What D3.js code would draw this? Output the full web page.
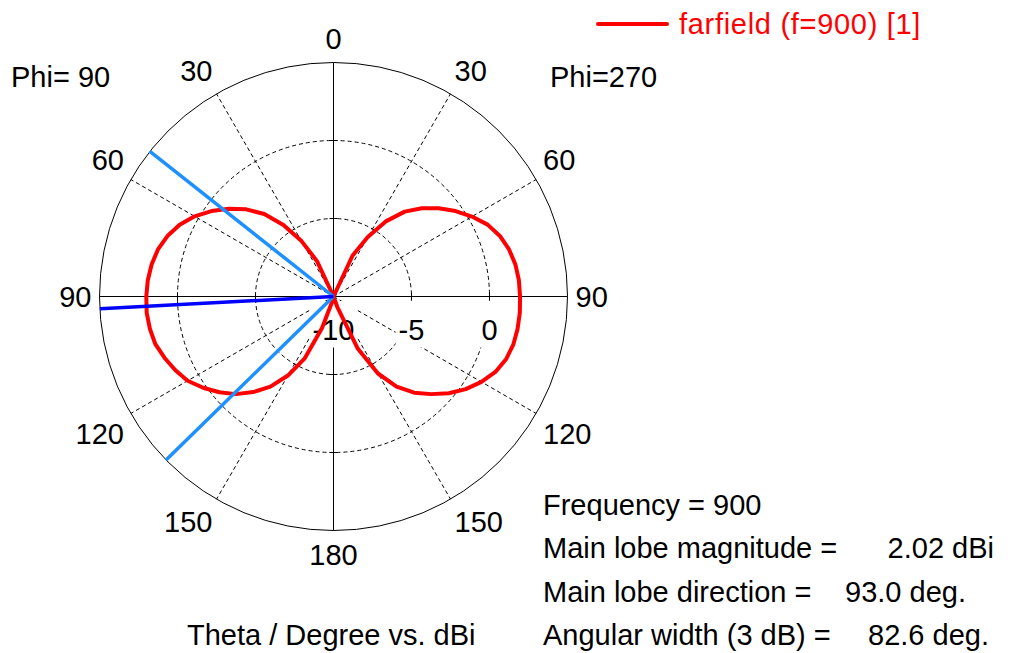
<!DOCTYPE html>
<html>
<head>
<meta charset="utf-8">
<script src="https://cdn.jsdelivr.net/npm/d3@7"></script>
<style>
  body { margin: 0; background: #fff; }
  svg { display: block; font-family: "Liberation Sans", Arial, sans-serif; }
  text { font-size: 29px; fill: #000; }
</style>
</head>
<body>
<div id="chart"></div>
<script>
// theta samples in degrees, same for both cuts
var theta = [0, 5, 10, 15, 20, 25, 30, 35, 40, 45, 50, 55, 60, 65, 70, 75, 80, 85, 90,
  95, 100, 105, 110, 115, 120, 125, 130, 135, 140, 145, 150, 155, 160, 165, 170, 175, 180];
// farfield gain in dBi, cut at Phi=90 (left half of the plot)
var gainPhi90 = [-10, -10, -10, -10, -10, -7.5, -5.9, -4.4, -3.1, -2.1, -1.25, -0.45, 0.28, 0.88, 1.33, 1.65, 1.84, 1.95, 2.0,
  2.02, 1.95, 1.82, 1.52, 1.18, 0.8, 0.2, -0.45, -1.15, -2.0, -2.95, -4.15, -5.6, -7.85, -9.6, -10, -10, -10];
// farfield gain in dBi, cut at Phi=270 (right half of the plot)
var gainPhi270 = [-10, -10, -10, -10, -10, -7.1, -5.6, -4.1, -2.9, -2.0, -1.2, -0.45, 0.25, 0.9, 1.35, 1.65, 1.84, 1.93, 1.96,
  1.99, 1.98, 1.93, 1.77, 1.45, 0.95, 0.35, -0.35, -1.15, -1.95, -2.95, -4.3, -6.3, -9.3, -10, -10, -10, -10];

var radialDomain = [-10, 5];
var radialTicks = [-10, -5, 0];
var gridRings = [-5, 0];
var angleTicks = [0, 30, 60, 90, 120, 150, 180];
var spokeAngles = [30, 60, 120, 150];

var frequency = 900;
var mainLobeMagnitude = 2.02;
var mainLobeDirection = 93.0;
var angularWidth = 82.6;

var legendLabel = 'farfield (f=' + frequency + ') [1]';
var infoLabels = ['Frequency = ' + frequency, 'Main lobe magnitude =', 'Main lobe direction =', 'Angular width (3 dB) ='];
var infoValues = ['', mainLobeMagnitude.toFixed(2) + ' dBi', mainLobeDirection.toFixed(1) + ' deg.', angularWidth.toFixed(1) + ' deg.'];
var infoEnds = [0, 994, 966, 989];

var size = { w: 1011, h: 653, cx: 333.5, cy: 296.5, R: 234 };

var r = d3.scaleLinear().domain(radialDomain).range([0, size.R]).clamp(true);

function rad(deg) { return deg*Math.PI/180; }
// signed angle: positive = Phi=270 side (right), negative = Phi=90 side (left)
function pt(deg, radius) {
  var a = rad(deg);
  return [radius*Math.sin(a), -radius*Math.cos(a)];
}

var svg = d3.select('#chart').append('svg')
  .attr('width', size.w)
  .attr('height', size.h);
svg.append('rect').attr('width', size.w).attr('height', size.h).attr('fill', '#fff');

var g = svg.append('g').attr('transform', 'translate(' + [size.cx, size.cy].join(',') + ')');

// dashed rings
g.selectAll('circle.ring').data(gridRings).enter().append('circle')
  .attr('class', 'ring')
  .attr('r', function(d) { return r(d); })
  .attr('fill', 'none')
  .attr('stroke', '#000')
  .attr('stroke-width', 1)
  .attr('stroke-dasharray', '4,3');

// dashed spokes on both sides
var spokes = spokeAngles.map(function(d) { return -d; }).concat(spokeAngles);
g.selectAll('line.spoke').data(spokes).enter().append('line')
  .attr('class', 'spoke')
  .attr('x1', 0).attr('y1', 0)
  .attr('x2', function(d) { return pt(d, size.R)[0]; })
  .attr('y2', function(d) { return pt(d, size.R)[1]; })
  .attr('stroke', '#000')
  .attr('stroke-width', 1)
  .attr('stroke-dasharray', '4,3');

// solid axes
g.append('line').attr('x1', -size.R).attr('x2', size.R).attr('y1', 0).attr('y2', 0)
  .attr('stroke', '#000').attr('stroke-width', 1);
g.append('line').attr('x1', 0).attr('x2', 0).attr('y1', -size.R).attr('y2', size.R)
  .attr('stroke', '#000').attr('stroke-width', 1);

// outer circle
g.append('circle').attr('r', r(radialDomain[1]))
  .attr('fill', 'none').attr('stroke', '#000').attr('stroke-width', 1);

// small ticks on the axes
var tickMarks = [];
gridRings.forEach(function(v) {
  [0, 90, 180, -90].forEach(function(a) { tickMarks.push({ v: v, a: a }); });
});
g.selectAll('line.tick').data(tickMarks).enter().append('line')
  .attr('class', 'tick')
  .each(function(d) {
    var p = pt(d.a, r(d.v));
    var vertical = d.a == 90 || d.a == -90;
    d3.select(this)
      .attr('x1', vertical ? p[0] : p[0] - 4).attr('x2', vertical ? p[0] : p[0] + 4)
      .attr('y1', vertical ? p[1] - 4 : p[1]).attr('y2', vertical ? p[1] + 4 : p[1]);
  })
  .attr('stroke', '#000').attr('stroke-width', 1);

// radial tick labels with white boxes
var tl = g.selectAll('g.rlabel').data(radialTicks).enter().append('g')
  .attr('class', 'rlabel')
  .attr('transform', function(d) { return 'translate(' + [r(d), 43].join(',') + ')'; });
tl.append('rect').attr('fill', '#fff');
tl.append('text').attr('text-anchor', 'middle').text(function(d) { return d; });
tl.each(function() {
  var b = d3.select(this).select('text').node().getBBox();
  d3.select(this).select('rect')
    .attr('x', b.x - 3).attr('width', b.width + 6)
    .attr('y', -38.5).attr('height', 46.5);
});

// angle labels, box corner sits on a circle just outside the plot
var angleLabels = [];
angleTicks.forEach(function(t) {
  angleLabels.push({ a: t, label: t });
  if(t > 0 && t < 180)
    angleLabels.push({ a: -t, label: t });
});
var labelRadius = size.R + 8;
g.selectAll('text.alabel').data(angleLabels).enter().append('text')
  .attr('class', 'alabel')
  .text(function(d) { return d.label; })
  .each(function(d) {
    var el = d3.select(this);
    var b = this.getBBox();
    var p = pt(d.a, labelRadius);
    var s = Math.sin(rad(d.a));
    var c = -Math.cos(rad(d.a));
    var left = s > 0.01 ? p[0] : (s < -0.01 ? p[0] - b.width : p[0] - b.width/2);
    var top = c > 0.01 ? p[1] : (c < -0.01 ? p[1] - b.height : p[1] - b.height/2);
    el.attr('x', left - b.x).attr('y', top - b.y);
  });

// farfield curve: right half 0..180, then left half 180..0
var loop = [];
theta.forEach(function(t, i) { loop.push([rad(t), r(gainPhi270[i])]); });
for(var i = theta.length - 1; i >= 0; i--)
  loop.push([-rad(theta[i]), r(gainPhi90[i])]);

var line = d3.lineRadial()
  .angle(function(d) { return d[0]; })
  .radius(function(d) { return d[1]; });

g.append('path')
  .attr('d', line(loop))
  .attr('fill', 'none')
  .attr('stroke', '#ff0000')
  .attr('stroke-width', 4)
  .attr('stroke-linejoin', 'round');

// 3 dB beam edges and main lobe direction (left side, Phi=90)
var beamEdges = [mainLobeDirection - angularWidth/2, mainLobeDirection + angularWidth/2];
g.selectAll('line.beam').data(beamEdges).enter().append('line')
  .attr('class', 'beam')
  .attr('x1', 0).attr('y1', 0)
  .attr('x2', function(d) { return pt(-d, size.R)[0]; })
  .attr('y2', function(d) { return pt(-d, size.R)[1]; })
  .attr('stroke', '#1e90ff')
  .attr('stroke-width', 3.5);
g.append('line')
  .attr('x1', 0).attr('y1', 0)
  .attr('x2', pt(-mainLobeDirection, size.R)[0])
  .attr('y2', pt(-mainLobeDirection, size.R)[1])
  .attr('stroke', '#0000ff')
  .attr('stroke-width', 3.5);

// phi labels
svg.append('text').attr('x', 11).attr('y', 87).text('Phi= 90');
svg.append('text').attr('x', 550).attr('y', 87).text('Phi=270');

// legend
svg.append('line')
  .attr('x1', 598).attr('x2', 667).attr('y1', 24).attr('y2', 24)
  .attr('stroke', '#ff0000').attr('stroke-width', 4).attr('stroke-linecap', 'round');
svg.append('text')
  .attr('x', 679).attr('y', 33.5)
  .style('fill', '#ff0000')
  .style('letter-spacing', '0.7px')
  .text(legendLabel);

// axis caption
svg.append('text').attr('x', 187).attr('y', 645).text('Theta / Degree vs. dBi');

// summary block
infoLabels.forEach(function(t, i) {
  var y = 515 + i*43.4;
  svg.append('text').attr('x', 543).attr('y', y).text(t);
  if(infoValues[i])
    svg.append('text').attr('x', infoEnds[i]).attr('y', y).attr('text-anchor', 'end').text(infoValues[i]);
});
</script>
</body>
</html>
